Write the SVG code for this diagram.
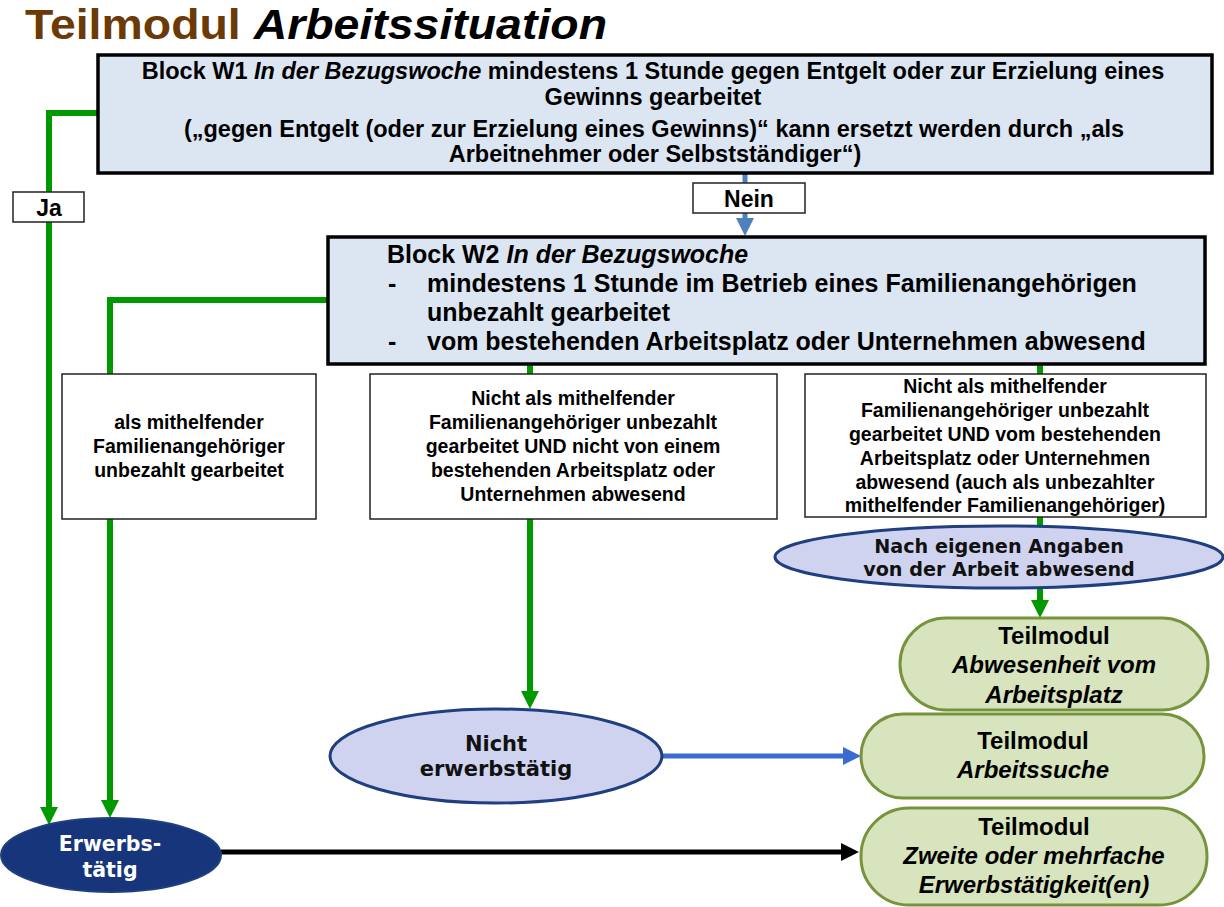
<svg xmlns="http://www.w3.org/2000/svg" width="1224" height="907" viewBox="0 0 1224 907">
<style>
.t{font-family:"Liberation Sans",Arial,sans-serif;font-weight:bold;fill:#000}
.d{font-family:"DejaVu Sans",Verdana,sans-serif;font-weight:bold}
.i{font-style:italic}
.c{text-anchor:middle}
.blk{fill:#DCE6F2;stroke:#000;stroke-width:3.5}
.box{fill:#fff;stroke:#222;stroke-width:1.5}
.ell{fill:#D0D3F0;stroke:#1F3F7F;stroke-width:3}
.tm{fill:#D7E4BD;stroke:#77933C;stroke-width:3}
.g{fill:none;stroke:#009A00;stroke-width:6}
</style>
<defs>
<marker id="ag" markerUnits="userSpaceOnUse" markerWidth="18" markerHeight="18" refX="6" refY="9" orient="auto"><path d="M0,0 L18,9 L0,18 z" fill="#009A00"/></marker>
<marker id="ab1" markerUnits="userSpaceOnUse" markerWidth="18" markerHeight="18" refX="6" refY="9" orient="auto"><path d="M0,0 L18,9 L0,18 z" fill="#4F81BD"/></marker>
<marker id="ab2" markerUnits="userSpaceOnUse" markerWidth="18" markerHeight="18" refX="6" refY="9" orient="auto"><path d="M0,0 L18,9 L0,18 z" fill="#3A6BD0"/></marker>
<marker id="ak" markerUnits="userSpaceOnUse" markerWidth="18" markerHeight="18" refX="6" refY="9" orient="auto"><path d="M0,0 L18,9 L0,18 z" fill="#000"/></marker>
</defs>
<rect width="1224" height="907" fill="#fff"/>
<g id="title">
<text class="t" x="25" y="39" font-size="43" textLength="582" lengthAdjust="spacingAndGlyphs"><tspan fill="#6B3A07">Teilmodul</tspan> <tspan class="i">Arbeitssituation</tspan></text>
</g>
<g id="connectors">
<path class="g" d="M98,113 H49 V813" marker-end="url(#ag)"/>
<path d="M745,173 V224" fill="none" stroke="#4F81BD" stroke-width="5" marker-end="url(#ab1)"/>
<path class="g" d="M328,300 H110 V374"/>
<path class="g" d="M110,519 V806" marker-end="url(#ag)"/>
<path class="g" d="M530,364 V374"/>
<path class="g" d="M530,519 V697" marker-end="url(#ag)"/>
<path class="g" d="M1040,364 V374"/>
<path class="g" d="M1040,517 V527"/>
<path class="g" d="M1040,588 V606" marker-end="url(#ag)"/>
<path d="M662,756 H849" fill="none" stroke="#3A6BD0" stroke-width="5" marker-end="url(#ab2)"/>
<path d="M221,852 H847" fill="none" stroke="#000" stroke-width="5" marker-end="url(#ak)"/>
</g>
<g id="ja">
<rect class="box" x="13" y="192" width="71" height="30"/>
<text class="t c" x="49" y="216" font-size="23">Ja</text>
</g>
<g id="nein">
<rect class="box" x="693" y="183" width="112" height="30"/>
<text class="t c" x="749" y="207" font-size="23">Nein</text>
</g>
<g id="w1">
<rect class="blk" x="98" y="55" width="1114" height="118"/>
<text class="t c" x="653" y="79" font-size="23.5">Block W1 <tspan class="i">In der Bezugswoche</tspan> mindestens 1 Stunde gegen Entgelt oder zur Erzielung eines</text>
<text class="t c" x="653" y="105" font-size="23.5">Gewinns gearbeitet</text>
<text class="t c" x="654" y="137" font-size="23.5">(„gegen Entgelt (oder zur Erzielung eines Gewinns)“ kann ersetzt werden durch „als</text>
<text class="t c" x="655" y="162" font-size="23.5">Arbeitnehmer oder Selbstständiger“)</text>
</g>
<g id="w2">
<rect class="blk" x="328" y="237" width="877" height="127"/>
<text class="t" x="387" y="263" font-size="25">Block W2 <tspan class="i">In der Bezugswoche</tspan></text>
<text class="t" x="388" y="292" font-size="25">-</text>
<text class="t" x="427" y="292" font-size="25">mindestens 1 Stunde im Betrieb eines Familienangehörigen</text>
<text class="t" x="427" y="321" font-size="25">unbezahlt gearbeitet</text>
<text class="t" x="388" y="350" font-size="25">-</text>
<text class="t" x="427" y="350" font-size="25">vom bestehenden Arbeitsplatz oder Unternehmen abwesend</text>
</g>
<g id="boxA">
<rect class="box" x="62" y="374" width="254" height="145"/>
<text class="t c" font-size="19.5"><tspan x="189" y="429">als mithelfender</tspan><tspan x="189" y="453">Familienangehöriger</tspan><tspan x="189" y="477">unbezahlt gearbeitet</tspan></text>
</g>
<g id="boxB">
<rect class="box" x="370" y="374" width="407" height="145"/>
<text class="t c" font-size="19.5"><tspan x="573" y="405">Nicht als mithelfender</tspan><tspan x="573" y="429">Familienangehöriger unbezahlt</tspan><tspan x="573" y="453">gearbeitet UND nicht von einem</tspan><tspan x="573" y="477">bestehenden Arbeitsplatz oder</tspan><tspan x="573" y="501">Unternehmen abwesend</tspan></text>
</g>
<g id="boxC">
<rect class="box" x="805" y="374" width="401" height="143"/>
<text class="t c" font-size="19.5"><tspan x="1005" y="393">Nicht als mithelfender</tspan><tspan x="1005" y="417">Familienangehöriger unbezahlt</tspan><tspan x="1005" y="441">gearbeitet UND vom bestehenden</tspan><tspan x="1005" y="465">Arbeitsplatz oder Unternehmen</tspan><tspan x="1005" y="489">abwesend (auch als unbezahlter</tspan><tspan x="1005" y="512">mithelfender Familienangehöriger)</tspan></text>
</g>
<g id="nach">
<ellipse class="ell" cx="999" cy="557" rx="224" ry="31"/>
<text class="d c" font-size="19.2" fill="#111"><tspan x="999" y="553">Nach eigenen Angaben</tspan><tspan x="999" y="576">von der Arbeit abwesend</tspan></text>
</g>
<g id="nicht">
<ellipse class="ell" cx="496" cy="756" rx="166" ry="47"/>
<text class="d c" font-size="21" fill="#111"><tspan x="496" y="751">Nicht</tspan><tspan x="496" y="776">erwerbstätig</tspan></text>
</g>
<g id="erwerb">
<ellipse cx="111" cy="855" rx="110" ry="37" fill="#17357A" stroke="#1F3F7F" stroke-width="2"/>
<text class="d c" font-size="20.5" fill="#fff"><tspan x="110" y="851">Erwerbs-</tspan><tspan x="110" y="877">tätig</tspan></text>
</g>
<g id="tmAbw">
<rect class="tm" x="900" y="618" width="308" height="92" rx="46"/>
<text class="t c" font-size="24"><tspan x="1054" y="644">Teilmodul</tspan><tspan class="i" x="1054" y="673">Abwesenheit vom</tspan><tspan class="i" x="1054" y="703">Arbeitsplatz</tspan></text>
</g>
<g id="tmSuche">
<rect class="tm" x="861" y="714" width="343" height="84" rx="42"/>
<text class="t c" font-size="24"><tspan x="1033" y="749">Teilmodul</tspan><tspan class="i" x="1033" y="778">Arbeitssuche</tspan></text>
</g>
<g id="tmZweite">
<rect class="tm" x="861" y="808" width="346" height="97" rx="48"/>
<text class="t c" font-size="24"><tspan x="1034" y="835">Teilmodul</tspan><tspan class="i" x="1034" y="864">Zweite oder mehrfache</tspan><tspan class="i" x="1034" y="893">Erwerbstätigkeit(en)</tspan></text>
</g>
</svg>
